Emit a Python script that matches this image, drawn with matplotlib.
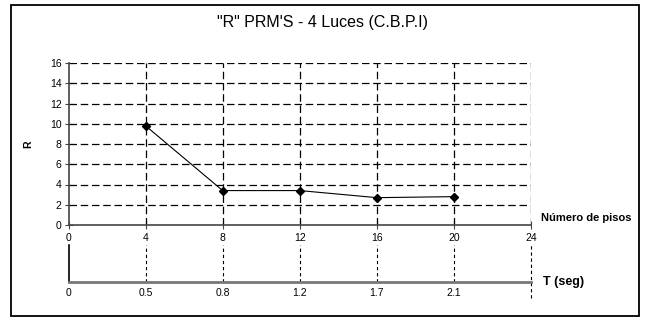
import matplotlib.pyplot as plt
from matplotlib.patches import Rectangle

plt.rcParams['font.family'] = ['Liberation Sans', 'DejaVu Sans']

# datos
pisos = [4, 8, 12, 16, 20]
R = [9.8, 3.4, 3.4, 2.7, 2.8]
x_ticks = [0, 4, 8, 12, 16, 20, 24]
y_ticks = [0, 2, 4, 6, 8, 10, 12, 14, 16]
T_pos = [0, 4, 8, 12, 16, 20]
T_labels = ["0", "0.5", "0.8", "1.2", "1.7", "2.1"]

W, H = 645, 320
fig = plt.figure(figsize=(W / 100, H / 100), dpi=100)

def box(x0, y0, x1, y1):
    # coordenadas en pixeles (origen arriba a la izquierda) -> fraccion de figura
    return [x0 / W, 1 - y1 / H, (x1 - x0) / W, (y1 - y0) / H]

dash = (0, (6, 3))

# grafico principal
ax = fig.add_axes(box(68.5, 63, 531, 225))
ax.set_xlim(0, 24)
ax.set_ylim(0, 16)
for y in y_ticks[1:]:
    ax.axhline(y, color='black', lw=0.9, ls=dash)
for x in x_ticks[1:]:
    ax.axvline(x, color='black', lw=0.9, ls=dash)
ax.plot(pisos, R, color='black', lw=0.8, marker='D', ms=4.5, zorder=5)
ax.set_xticks(x_ticks)
ax.set_yticks(y_ticks)
ax.tick_params(axis='both', labelsize=7.5, direction='inout', length=6, width=0.8, color='#444444')
ax.tick_params(axis='x', pad=3)
ax.tick_params(axis='y', pad=2)
for s in ['top', 'right']:
    ax.spines[s].set_visible(False)
for s in ['left', 'bottom']:
    ax.spines[s].set_color('#444444')
    ax.spines[s].set_linewidth(1.2)
ax.set_ylabel("R", fontsize=7.5, fontweight='bold', labelpad=12)
ax.text(541 / W, 1 - 218 / H, "Número de pisos", transform=fig.transFigure,
        fontsize=8, fontweight='bold', va='center', ha='left')

# eje del periodo T
ax2 = fig.add_axes(box(68.5, 245, 531, 282))
ax2.set_xlim(0, 24)
ax2.set_ylim(0, 1)
ax2.patch.set_visible(False)
for x in x_ticks[1:-1]:
    ax2.plot([x, x], [0, 1], color='black', lw=0.8, ls=(0, (3, 2.5)))
ax2.plot([24, 24], [-0.42, 1], color='black', lw=0.8, ls=(0, (3, 2.5)), clip_on=False)
ax2.plot([0, 0], [0, 1], color='black', lw=1.2, clip_on=False)
for s in ['top', 'right', 'left']:
    ax2.spines[s].set_visible(False)
ax2.spines['bottom'].set_color('#777777')
ax2.spines['bottom'].set_linewidth(2)
ax2.set_yticks([])
ax2.set_xticks(T_pos)
ax2.set_xticklabels(T_labels)
ax2.tick_params(axis='x', labelsize=7.5, length=0, pad=4)
ax2.text(543 / W, 1 - 282 / H, "T (seg)", transform=fig.transFigure,
         fontsize=9, fontweight='bold', va='center', ha='left')

fig.text(0.5, 1 - 22 / H, "\"R\" PRM'S - 4 Luces (C.B.P.I)", ha='center', va='center', fontsize=11.5)

fig.patches.append(Rectangle((11 / W, 1 - 316 / H), 628 / W, 311 / H, transform=fig.transFigure,
                             fill=False, edgecolor='black', lw=1.3))

fig.savefig("out.png", dpi=100)
